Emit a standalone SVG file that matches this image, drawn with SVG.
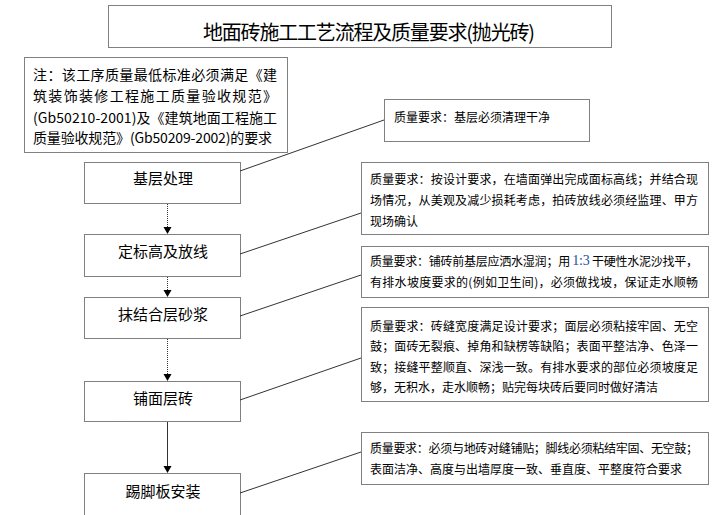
<svg xmlns="http://www.w3.org/2000/svg" width="726" height="515" viewBox="0 0 726 515">
<style>
.box{fill:#fff;stroke:#000;stroke-width:1;stroke-dasharray:1,1}
text{font-family:"Noto Sans CJK SC","Noto Sans",sans-serif;fill:#000;dominant-baseline:central}
.t{font-size:20px}
.n{font-size:14px}
.node{font-size:15px;text-anchor:middle}
.q{font-size:12px}
.link{stroke:#333;stroke-width:1;fill:none}
.flow{stroke:#333;stroke-width:1;fill:none}
.head{fill:#000;stroke:none}
</style>
<g id="title">
<rect class="box" x="108.5" y="5.5" width="503" height="42"/>
<text class="t" x="203" y="31" textLength="332" lengthAdjust="spacing">地面砖施工工艺流程及质量要求(抛光砖)</text>
</g>
<g id="note">
<rect class="box" x="24.5" y="57.5" width="263" height="95"/>
<text class="n" x="33" y="74" textLength="244" lengthAdjust="spacing">注：该工序质量最低标准必须满足《建</text>
<text class="n" x="33" y="95" textLength="244" lengthAdjust="spacing">筑装饰装修工程施工质量验收规范》</text>
<text class="n" x="33" y="117" textLength="244" lengthAdjust="spacing">(Gb50210-2001)及《建筑地面工程施工</text>
<text class="n" x="33" y="137" textLength="239" lengthAdjust="spacing">质量验收规范》(Gb50209-2002)的要求</text>
</g>
<g id="step1">
<rect class="box" x="84.5" y="162.5" width="156" height="41"/>
<text class="node" x="163" y="177">基层处理</text>
</g>
<g id="step2">
<rect class="box" x="84.5" y="234.5" width="156" height="42"/>
<text class="node" x="163" y="250">定标高及放线</text>
</g>
<g id="step3">
<rect class="box" x="84.5" y="297.5" width="156" height="41"/>
<text class="node" x="163" y="313">抹结合层砂浆</text>
</g>
<g id="step4">
<rect class="box" x="84.5" y="381.5" width="156" height="40"/>
<text class="node" x="163" y="397">铺面层砖</text>
</g>
<g id="step5">
<rect class="box" x="84.5" y="473.5" width="156" height="45"/>
<text class="node" x="163" y="490">踢脚板安装</text>
</g>
<g id="qr1">
<rect class="box" x="384.5" y="99.5" width="205" height="42"/>
<text class="q" x="394" y="116">质量要求：基层必须清理干净</text>
</g>
<g id="qr2">
<rect class="box" x="361.5" y="162.5" width="347" height="72"/>
<text class="q" x="370" y="178" textLength="328" lengthAdjust="spacing">质量要求：按设计要求，在墙面弹出完成面标高线；并结合现</text>
<text class="q" x="370" y="199" textLength="328" lengthAdjust="spacing">场情况，从美观及减少损耗考虑，拍砖放线必须经监理、甲方</text>
<text class="q" x="370" y="220">现场确认</text>
</g>
<g id="qr3">
<rect class="box" x="361.5" y="246.5" width="347" height="51"/>
<text class="q" x="370" y="260" textLength="328" lengthAdjust="spacing">质量要求：铺砖前基层应洒水湿润；用 <tspan fill="#1f4fa0" font-size="14px" font-family="Liberation Serif, serif">1:3</tspan> 干硬性水泥沙找平，</text>
<text class="q" x="370" y="281" textLength="328" lengthAdjust="spacing">有排水坡度要求的(例如卫生间)，必须做找坡，保证走水顺畅</text>
</g>
<g id="qr4">
<rect class="box" x="361.5" y="307.5" width="347" height="94"/>
<text class="q" x="370" y="325" textLength="328" lengthAdjust="spacing">质量要求：砖缝宽度满足设计要求；面层必须粘接牢固、无空</text>
<text class="q" x="370" y="345" textLength="328" lengthAdjust="spacing">鼓；面砖无裂痕、掉角和缺楞等缺陷；表面平整洁净、色泽一</text>
<text class="q" x="370" y="366" textLength="328" lengthAdjust="spacing">致；接缝平整顺直、深浅一致。有排水要求的部位必须坡度足</text>
<text class="q" x="370" y="386" textLength="288" lengthAdjust="spacing">够，无积水，走水顺畅；贴完每块砖后要同时做好清洁</text>
</g>
<g id="qr5">
<rect class="box" x="361.5" y="432.5" width="347" height="52"/>
<text class="q" x="370" y="447" textLength="328" lengthAdjust="spacing">质量要求：必须与地砖对缝铺贴；脚线必须粘结牢固、无空鼓；</text>
<text class="q" x="370" y="468" textLength="312" lengthAdjust="spacing">表面洁净、高度与出墙厚度一致、垂直度、平整度符合要求</text>
</g>
<g id="connectors">
<line class="flow" x1="167.5" y1="204" x2="167.5" y2="228" stroke-dasharray="1,1"/>
<path class="head" d="M163.5,227 L171.5,227 L167.5,234 Z"/>
<line class="flow" x1="167.5" y1="277" x2="167.5" y2="291" stroke-dasharray="1,1"/>
<path class="head" d="M163.5,290 L171.5,290 L167.5,297 Z"/>
<line class="flow" x1="167.5" y1="339" x2="167.5" y2="375" stroke="#555" stroke-dasharray="1,1"/>
<path class="head" d="M163.5,374 L171.5,374 L167.5,381 Z"/>
<line class="flow" x1="167.5" y1="422" x2="167.5" y2="467" stroke="#666"/>
<path class="head" d="M163.5,466 L171.5,466 L167.5,473 Z"/>
<line class="link" x1="240" y1="171" x2="384" y2="120"/>
<line class="link" x1="240" y1="254" x2="361" y2="213"/>
<line class="link" x1="240" y1="316" x2="361" y2="275"/>
<line class="link" x1="240" y1="400" x2="361" y2="358"/>
<line class="link" x1="240" y1="493" x2="361" y2="452"/>
</g>
</svg>
